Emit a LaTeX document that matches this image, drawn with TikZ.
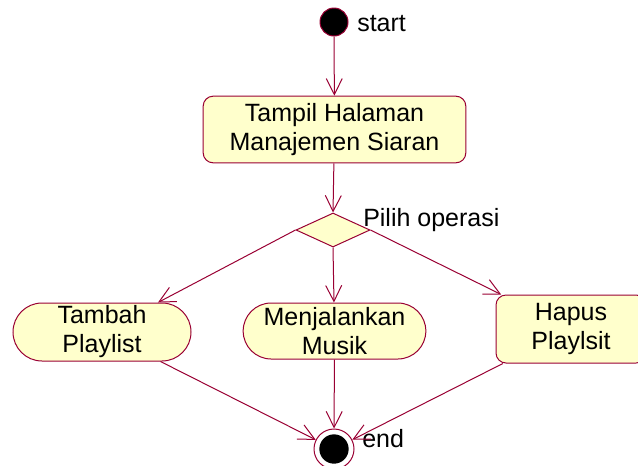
\documentclass[tikz,border=0pt]{standalone}
\usepackage{fontspec}
\setmainfont{Liberation Sans}
\usetikzlibrary{shapes.geometric,shapes.misc,arrows.meta}
\definecolor{umlline}{HTML}{990033}
\definecolor{umlfill}{HTML}{FFFFCC}
\tikzset{
  flow/.style={draw=umlline, line width=0.75pt, -{Straight Barb[length=12pt,width=12pt,line width=0.75pt]}},
  actbox/.style={draw=umlline, fill=umlfill, line width=0.75pt, rounded corners=7.5pt,
    align=center, font=\fontsize{18.75pt}{21.75pt}\selectfont, inner sep=0pt},
  actpill/.style={rounded rectangle, draw=umlline, fill=umlfill, line width=0.75pt,
    align=center, font=\fontsize{18.75pt}{21.75pt}\selectfont, inner sep=0pt},
  choice/.style={diamond, draw=umlline, fill=umlfill, line width=0.75pt, inner sep=0pt,
    minimum width=55.5pt, minimum height=25.5pt},
  lbl/.style={font=\fontsize{18.75pt}{21.75pt}\selectfont, inner sep=0pt},
}
\begin{document}
\begin{tikzpicture}[x=0.75pt,y=-0.75pt]
\useasboundingbox (0,0) rectangle (638,465);
% initial and final states
\node (start) [circle, draw=umlline, fill=black, line width=0.75pt, minimum size=21pt, inner sep=0pt] at (334,22) {};
\node (end) [circle, draw=umlline, line width=0.75pt, minimum size=30pt, inner sep=0pt,
  path picture={\fill[black] (path picture bounding box.center) circle (11pt);}] at (334,449) {};
% activities
\node (tampil) [actbox, minimum width=197pt, minimum height=50pt] at (334.5,129.5) {Tampil Halaman\\Manajemen Siaran};
\node (dec) [choice] at (333,230) {};
\node (tambah) [actpill, minimum width=133.5pt, minimum height=43.5pt] at (102,332) {Tambah\\Playlist};
\node (musik) [actpill, minimum width=137pt, minimum height=42pt] at (334.5,331) {Menjalankan\\Musik};
\node (hapus) [actbox, minimum width=112.5pt, minimum height=51pt] at (571,329) {Hapus\\Playlsit};
% labels
\node (lstart) [lbl, anchor=base west] at (357,31) {start};
\node (lpilih) [lbl, anchor=base west] at (363,226) {Pilih operasi};
\node (lend) [lbl, anchor=base west] at (362,447) {end};
% transitions
\draw[flow] (start) -- (tampil);
\draw[flow] (tampil) -- (dec.north);
\draw[flow] (dec.west) -- (tambah);
\draw[flow] (dec.south) -- (musik);
\draw[flow] (dec.east) -- (hapus);
\draw[flow] (tambah) -- (end);
\draw[flow] (musik) -- (end);
\draw[flow] (hapus) -- (end);
\end{tikzpicture}
\end{document}
